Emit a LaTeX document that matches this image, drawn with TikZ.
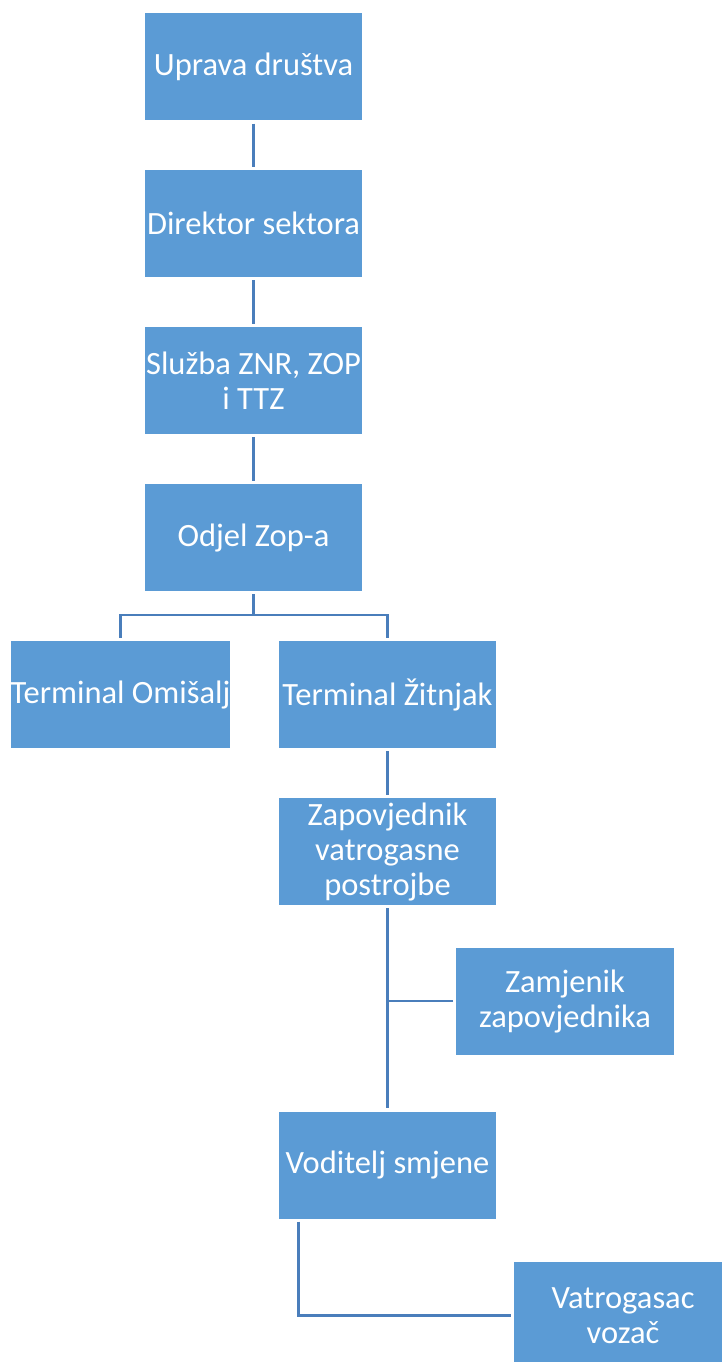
\documentclass[tikz,border=0pt]{standalone}
\usepackage{fontspec}
\setmainfont{Carlito}
\usetikzlibrary{calc}
\definecolor{boxblue}{HTML}{5B9BD5}
\definecolor{lineblue}{HTML}{4A7EBB}

\begin{document}
\begin{tikzpicture}[x=1pt,y=-1pt,
    box/.style={fill=boxblue,minimum width=217.5pt,minimum height=107pt,inner sep=0pt,
      align=center,text=white,font=\fontsize{32.5}{35}\selectfont},
    conn/.style={draw=lineblue,line width=2.5pt},
    gap/.style={shorten <=3pt,shorten >=3pt}]
  \useasboundingbox (0,0) rectangle (722,1362);
  \clip (0,0) rectangle (722,1362);
  \node[box] (U) at (253.5,67) {Uprava društva};
  \node[box] (D) at (253.5,223.5) {Direktor sektora};
  \node[box] (S) at (253.5,380.5) {Služba ZNR, ZOP\\i TTZ};
  \node[box] (O) at (253.5,537.5) {Odjel Zop-a};
  \node[box] (TO) at (120.5,694.5) {Terminal Omišalj};
  \node[box] (TZ) at (387.5,694.5) {Terminal Žitnjak};
  \node[box] (ZP) at (387.5,851.5) {Zapovjednik\\vatrogasne\\postrojbe};
  \node[box] (ZM) at (565,1001) {Zamjenik\\zapovjednika};
  \node[box] (VS) at (387.5,1165) {Voditelj smjene};
  \node[box] (VV) at (623,1315.5) {Vatrogasac\\vozač};
  \draw[conn,gap] (U) -- (D);
  \draw[conn,gap] (D) -- (S);
  \draw[conn,gap] (S) -- (O);
  \coordinate (split) at ($(O.south)+(0,24)$);
  \draw[conn,shorten <=3pt] (O.south) -- (split);
  \draw[conn,gap] (TO.north) |- (split) -| (TZ.north);
  \draw[conn,gap] (TZ) -- (ZP);
  \draw[conn,gap] (ZP) -- (VS);
  \draw[conn,shorten <=3pt] (ZM.west) -- (ZM.west -| ZP.south);
  \draw[conn,gap] ($(VS.south west)+(20,0)$) |- (VV.west);
\end{tikzpicture}
\end{document}
